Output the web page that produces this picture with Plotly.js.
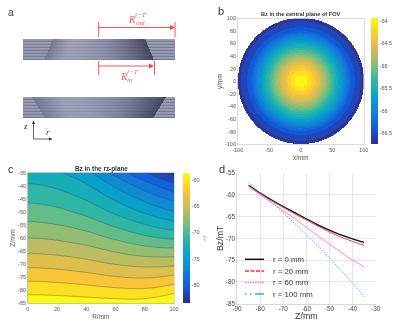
<!DOCTYPE html>
<html><head><meta charset="utf-8">
<script src="https://cdn.plot.ly/plotly-3.0.1.min.js"></script>
<style>html,body{margin:0;padding:0;background:#fff}#g{width:400px;height:321px;filter:blur(0.35px)}</style>
</head><body><div id="g"></div>
<script>
// ---- data ----
var parula = ['#352a87','#0f5cdd','#1481d6','#06a4ca','#2eb7a4','#87bf77','#d1bb59','#fec832','#f9fb0e'];

// panel b: Bz against radius in the central plane
var radiusB = [0,10,20,30,40,50,60,70,80,90,100];
var bzRadial = [-63.98,-64.05,-64.28,-64.58,-64.95,-65.3,-65.65,-66.02,-66.38,-66.58,-66.66];

// panel c: Bz on the rz grid, one row per Z
var rGrid = [0,10,20,30,40,50,60,70,80,90,100];
var zGrid = [-35,-40,-45,-50,-55,-60,-65,-70,-75,-80,-85];
var bz_z35 = [-72.4,-72.56,-73.0,-73.65,-74.5,-75.85,-77.3,-78.76,-80.1,-81.38,-82.6];
var bz_z40 = [-71.3,-71.45,-71.8,-72.35,-73.0,-74.05,-75.25,-76.43,-77.6,-78.7,-79.75];
var bz_z45 = [-70.1,-70.25,-70.55,-71.05,-71.65,-72.55,-73.5,-74.48,-75.45,-76.37,-77.2];
var bz_z50 = [-68.95,-69.05,-69.3,-69.72,-70.25,-71.0,-71.85,-72.68,-73.5,-74.27,-74.95];
var bz_z55 = [-67.65,-67.75,-67.95,-68.3,-68.75,-69.36,-70.05,-70.73,-71.4,-72.04,-72.55];
var bz_z60 = [-66.25,-66.32,-66.5,-66.8,-67.15,-67.7,-68.25,-68.82,-69.35,-69.75,-70.0];
var bz_z65 = [-64.8,-64.86,-65.0,-65.22,-65.5,-65.94,-66.4,-66.81,-67.15,-67.34,-67.4];
var bz_z70 = [-63.2,-63.26,-63.4,-63.62,-63.88,-64.22,-64.55,-64.8,-64.95,-64.96,-64.85];
var bz_z75 = [-61.5,-61.56,-61.7,-61.88,-62.1,-62.38,-62.65,-62.84,-62.9,-62.73,-62.35];
var bz_z80 = [-59.85,-59.88,-59.95,-60.08,-60.25,-60.44,-60.6,-60.72,-60.7,-60.41,-59.9];
var bz_z85 = [-58.1,-58.14,-58.2,-58.27,-58.35,-58.44,-58.5,-58.56,-58.45,-58.01,-57.3];

// panel d: Bz against Z
var zLine = [-85,-80,-75,-70,-65,-60,-55,-50,-45,-40,-35];
var line0   = [-57.8,-59.6,-61.2,-62.7,-64.1,-65.5,-66.9,-68.1,-69.2,-70.1,-70.9];
var line20  = [-58.0,-59.8,-61.4,-62.9,-64.4,-65.8,-67.2,-68.5,-69.7,-70.7,-71.6];
var line60  = [-58.0,-60.0,-61.8,-63.6,-65.5,-67.5,-69.4,-71.3,-73.2,-75.0,-76.5];
var line100 = [-57.1,-59.6,-61.8,-64.1,-66.6,-69.2,-71.8,-74.5,-77.4,-80.3,-83.5];
var legendNames = ['r = 0 mm','r = 20 mm','r = 60 mm','r = 100 mm'];
var lineColors = ['#111111','#f0302a','#ff70f0','#30aef0'];
var keyDashes = ['solid','4px,1.5px','1.5px,1px','1.5px,3.5px,1.5px,3.5px,9px,0px'];

// ---- helpers ----
var W=400,H=321;
function dx(a,b){return [a/W,b/W];}
function dy(t,b){return [1-b/H,1-t/H];}
function px(x){return x/W;}
function py(y){return 1-y/H;}
var scale = parula.map(function(c,i){return [i/(parula.length-1),c];});
var tickGrey='#555', boxGrey='#c4c4c4';

// panel b grid from the radial readings
var nB=126, xB=[], zB=[];
for(var i=0;i<nB;i++) xB.push(-100+200*(i+0.5)/nB);
var bandB=0.135;
xB.forEach(function(y){
  var row=[];
  xB.forEach(function(x){
    var r=Math.sqrt(x*x+y*y);
    if(r>100){row.push(null);return;}
    var k=Math.min(Math.floor(r/10),radiusB.length-2);
    var t=(r-radiusB[k])/10;
    var v=bzRadial[k]+(bzRadial[k+1]-bzRadial[k])*t;
    row.push(Math.round(v/bandB)*bandB);
  });
  zB.push(row);
});

// panel c table
var zC = [bz_z35,bz_z40,bz_z45,bz_z50,bz_z55,bz_z60,bz_z65,bz_z70,bz_z75,bz_z80,bz_z85];

// panel a: magnet cross-sections as small shaded images
function block(y0,y1,xlTop,xlBot,xrTop,xrBot,lightPeak,lo){
  var xs=[],ys=[],z=[];
  for(var x=23;x<175;x++) xs.push(x+0.5);
  for(var y=y0;y<y1;y++) ys.push(y+0.5);
  ys.forEach(function(y,rowIdx){
    var f=(y-y0)/(y1-y0), xl=xlTop+(xlBot-xlTop)*f, xr=xrTop+(xrBot-xrTop)*f;
    var stripe=(rowIdx%3===2);
    z.push(xs.map(function(x){
      if(x<xl||x>xr) return stripe?0.42:(rowIdx%3===0?0.66:0.6);
      var t=(x-xl)/(xr-xl), v;
      if(t<lightPeak) v=lo+(0.68-lo)*(t/lightPeak);
      else v=0.68-0.56*Math.pow((t-lightPeak)/(1-lightPeak),1.9);
      return stripe?v*0.86:v;
    }));
  });
  return {type:'heatmap',x:xs,y:ys,z:z,xaxis:'x',yaxis:'y',zmin:0,zmax:1,showscale:false,hoverinfo:'skip',
    colorscale:[[0,'#30344a'],[0.5,'#8488a2'],[1,'#cdd0de']]};
}

var traces=[
  block(39,60,53,44,145,154,0.18,0.42),
  block(97,118,32,45,166,153,0.22,0.42),
  {type:'heatmap',x:xB,y:xB,z:zB,xaxis:'x2',yaxis:'y2',colorscale:scale,zmin:-66.75,zmax:-63.95,zsmooth:false,hoverinfo:'skip',
   colorbar:{x:px(371.3),xanchor:'left',xpad:0,y:py(81.5),yanchor:'middle',ypad:0,len:126,lenmode:'pixels',thickness:6.5,thicknessmode:'pixels',
     outlinewidth:0,ticks:'',tickvals:[-64,-64.5,-65,-65.5,-66,-66.5],ticktext:['-64','-64.5','-65','-65.5','-66','-66.5'],
     tickfont:{family:'Liberation Sans',size:5.5,color:tickGrey}}},
  {type:'contour',x:rGrid,y:zGrid,z:zC,xaxis:'x3',yaxis:'y3',colorscale:scale,zmin:-83.4,zmax:-58.7,showscale:false,hoverinfo:'skip',
   autocontour:false,contours:{start:-82,end:-59.25,size:1.75,coloring:'fill',showlines:true},
   line:{color:'rgba(60,70,50,0.6)',width:0.6,smoothing:1}},
  {type:'scatter',mode:'markers',x:[null,null],y:[null,null],xaxis:'x3',yaxis:'y3',showlegend:false,hoverinfo:'skip',
   marker:{color:[-83.4,-58.7],cmin:-83.4,cmax:-58.7,colorscale:scale,showscale:true,
     colorbar:{x:px(183.3),xanchor:'left',xpad:0,y:py(238),yanchor:'middle',ypad:0,len:130,lenmode:'pixels',thickness:7.2,thicknessmode:'pixels',
       outlinewidth:0,ticks:'',tickvals:[-60,-65,-70,-75,-80],ticktext:['-60','-65','-70','-75','-80'],
       tickfont:{family:'Liberation Sans',size:5.5,color:tickGrey}}}}
];
[line0,line20,line60,line100].forEach(function(s,i){
  traces.push({type:'scatter',mode:'lines',x:zLine,y:s,xaxis:'x4',yaxis:'y4',showlegend:false,hoverinfo:'skip',
    name:legendNames[i],line:{color:lineColors[i],width:i===0?1.3:0.9,dash:i===3?'1.5px,1.2px':'solid',shape:'spline'}});
});

function boxAxis(extra){
  return Object.assign({showgrid:false,zeroline:false,showline:true,mirror:true,linecolor:boxGrey,linewidth:0.6,ticks:'',
    tickfont:{family:'Liberation Sans',size:5.5,color:tickGrey},tickangle:0},extra);
}
function schem(d,r){return {domain:d,range:r,visible:false,fixedrange:true};}

var red='#ff4040', shapes=[], annotations=[];
function seg(x0,y0,x1,y1,c,w){shapes.push({type:'line',xref:'x',yref:'y',x0:x0,y0:y0,x1:x1,y1:y1,line:{color:c,width:w}});}
function tri(p,c){shapes.push({type:'path',xref:'x',yref:'y',path:p,fillcolor:c,line:{width:0}});}
seg(98.7,22,98.7,37,red,0.9); seg(175,22,175,37,red,0.9);
seg(98.7,27.5,172,27.5,red,0.9); tri('M170,25 L175,27.5 L170,30 Z',red);
seg(98.7,61,98.7,75,red,0.9); seg(154.5,61,154.5,75,red,0.9);
seg(98.7,66,151,66,red,0.9); tri('M149,63.5 L154,66 L149,68.5 Z',red);
seg(33.5,139,33.5,124,'#222',0.7); tri('M32,124 L33.5,120.5 L35,124 Z','#222');
seg(33.5,139,50,139,'#222',0.7); tri('M49,137.5 L52.5,139 L49,140.5 Z','#222');

function txt(x,y,t,size,color,opts){
  annotations.push(Object.assign({xref:'paper',yref:'paper',x:px(x),y:py(y),text:t,showarrow:false,xanchor:'center',yanchor:'middle',
    font:{family:'Liberation Sans',size:size,color:color}},opts||{}));
}
var serifRed={family:'Liberation Serif',size:10,color:'#ff5050'};
var serifRedS={family:'Liberation Serif',size:7,color:'#ff5050'};
txt(131,19,'<i>R</i>',10,red,{font:serifRed});
txt(141,15.5,'<i>i−T</i>',7,red,{font:serifRedS});
txt(141,23,'<i>out</i>',7,red,{font:serifRedS});
txt(123,76,'<i>R</i>',10,red,{font:serifRed});
txt(132.5,72.5,'<i>i−T</i>',7,red,{font:serifRedS});
txt(130,80,'<i>in</i>',7,red,{font:serifRedS});
txt(25.5,126,'<i>z</i>',8,'#333',{font:{family:'Liberation Serif',size:9,color:'#333'}});
txt(47.5,132,'<i>r</i>',8,'#333',{font:{family:'Liberation Serif',size:9,color:'#333'}});
txt(11,12.5,'a',10,'#333');
txt(221,11.5,'b',11,'#333');
txt(11,169,'c',11,'#333');
txt(222,169,'d',11,'#333');
txt(301,14.5,'<b>Bz in the central plane of FOV</b>',5.6,'#333');
txt(101,169,'<b>Bz in the rz-plane</b>',6.4,'#333');
// panel d key
var keyY=[259.3,271,282.5,294];
legendNames.forEach(function(n,i){
  var y=py(keyY[i]);
  shapes.push({type:'line',xref:'paper',yref:'paper',x0:px(245),x1:px(264),y0:y,y1:y,
    line:{color:lineColors[i],width:1.5,dash:keyDashes[i]}});
  txt(270.5,keyY[i],n,7.8,'#333',{xanchor:'left'});
});

var layout={width:W,height:H,margin:{l:0,r:0,t:0,b:0},paper_bgcolor:'#fff',plot_bgcolor:'rgba(0,0,0,0)',showlegend:false,
  shapes:shapes,annotations:annotations,
  xaxis:schem([0,0.5],[0,200]),
  yaxis:schem([1-160/H,1],[160,0]),
  xaxis2:boxAxis({domain:dx(237.7,363.7),anchor:'y2',range:[-100,100],tickvals:[-100,-50,0,50,100],ticktext:['-100','-50','0','50','100'],
    title:{text:'x/mm',standoff:3,font:{family:'Liberation Sans',size:6.3,color:tickGrey}}}),
  yaxis2:boxAxis({domain:dy(18.3,144.3),anchor:'x2',range:[-100,100],tickvals:[-100,-80,-60,-40,-20,0,20,40,60,80,100],
    ticktext:['-100','-80','-60','-40','-20','0','20','40','60','80','100'],
    title:{text:'y/mm',standoff:1,font:{family:'Liberation Sans',size:6.3,color:tickGrey}}}),
  xaxis3:boxAxis({domain:dx(27.7,174),anchor:'y3',range:[0,100],tickvals:[0,20,40,60,80,100],ticktext:['0','20','40','60','80','100'],
    title:{text:'R/mm',standoff:3,font:{family:'Liberation Sans',size:6.5,color:tickGrey}}}),
  yaxis3:boxAxis({domain:dy(172.7,303.3),anchor:'x3',range:[-85,-35],tickvals:[-35,-40,-45,-50,-55,-60,-65,-70,-75,-80,-85],
    ticktext:['-35','-40','-45','-50','-55','-60','-65','-70','-75','-80','-85'],
    title:{text:'Z/mm',standoff:1,font:{family:'Liberation Sans',size:7,color:tickGrey}}}),
  xaxis4:{domain:dx(237,375.7),anchor:'y4',range:[-90,-30],showgrid:true,gridcolor:'#dcdcdc',gridwidth:0.7,zeroline:false,showline:true,linecolor:'#c8c8c8',linewidth:0.7,
    tickvals:[-90,-80,-70,-60,-50,-40,-30],ticktext:['-90','-80','-70','-60','-50','-40','-30'],ticks:'',tickangle:0,ticklabelstandoff:-1,
    tickfont:{family:'Liberation Sans',size:6.4,color:'#444'},
    title:{text:'Z/mm',standoff:0,font:{family:'Liberation Sans',size:8.8,color:'#333'}}},
  yaxis4:{domain:dy(173,303.7),anchor:'x4',range:[-85,-55],showgrid:true,gridcolor:'#dcdcdc',gridwidth:0.7,zeroline:false,showline:true,linecolor:'#c8c8c8',linewidth:0.7,
    tickvals:[-55,-60,-65,-70,-75,-80,-85],ticktext:['-55','-60','-65','-70','-75','-80','-85'],ticks:'',
    tickfont:{family:'Liberation Sans',size:6.4,color:'#444'},
    title:{text:'Bz/mT',standoff:0,font:{family:'Liberation Sans',size:8.8,color:'#333'}}}
};
txt(204,238,'mT',4,'#888',{textangle:-90});
Plotly.newPlot('g',traces,layout,{staticPlot:true,displayModeBar:false});
</script></body></html>
